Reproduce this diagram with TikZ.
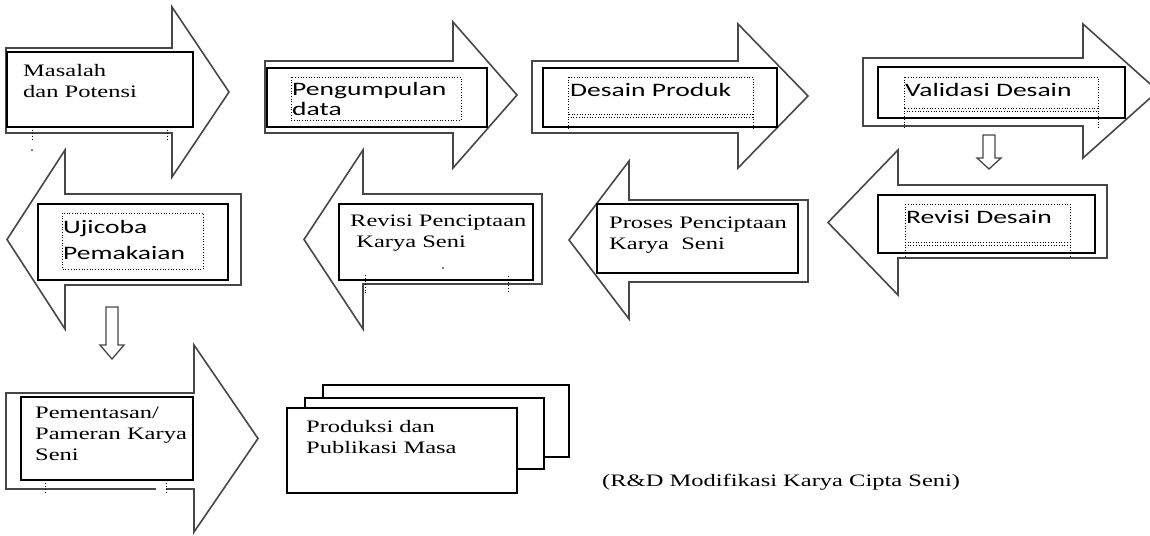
\documentclass[tikz,border=0pt]{standalone}
\usepackage{fontspec}
\setmainfont{Liberation Serif}[FakeStretch=1.4]
\newfontfamily\calfont{Carlito}[FakeStretch=1.45]
\newcommand\BlockArr[7]{%
  \draw[arr] (#1,#2) -- (#4,#2) -- (#4,#5) -- (#7,{(#5+#6)/2}) -- (#4,#6) -- (#4,#3) -- (#1,#3) -- cycle;}
\newcommand\DownArr[4]{%
  \draw[arr, line width=1.3pt] ({#1-6},#2) -- ({#1+6},#2) -- ({#1+6},#3) -- ({#1+12},#3) -- (#1,#4) -- ({#1-12},#3) -- ({#1-6},#3) -- cycle;}
\begin{document}
\begin{tikzpicture}[x=1pt,y=-1pt,
  arr/.style={draw=black!72, line width=1.6pt, fill=white, line join=miter},
  ibox/.style={draw=black, line width=1.4pt, fill=white},
  tframe/.style={draw=black, dotted, line width=0.7pt},
  tickmark/.style={draw=black, dotted, line width=0.9pt},
  serif/.style={font=\fontsize{17.5}{21}\selectfont, anchor=base west, inner sep=0pt, align=left},
  sans/.style={font=\calfont\fontsize{19}{20}\selectfont, anchor=base west, inner sep=0pt, align=left}]
\useasboundingbox (0,0) rectangle (1150,535);
\fill[white] (0,0) rectangle (1150,535);

% ---- row 1 : arrows to the right
\BlockArr{6}{48}{133}{172}{7}{177}{229}
\BlockArr{265}{61}{133}{453}{22}{168}{517}
\BlockArr{532}{61}{133}{738}{24}{168}{808}
\BlockArr{863}{58}{126}{1083}{24}{158}{1158}

% ---- row 2 : arrows to the left
\BlockArr{1107}{185}{258}{898}{150}{295}{828}
\BlockArr{808}{200}{282}{629}{161}{319}{569}
\BlockArr{542}{194}{284}{363}{150}{329}{304}
\BlockArr{241}{194}{285}{65}{150}{329}{7}

% ---- row 3
\BlockArr{6}{393}{489}{194}{345}{532}{258}

% small down arrows
\DownArr{989}{135}{158}{169}
\DownArr{112}{307}{345}{359}

% ---- inner boxes
\draw[ibox] (7,52) rectangle (193,127);
\draw[ibox] (267,68) rectangle (487,127);
\draw[ibox] (543,68) rectangle (777,127);
\draw[ibox] (878,67) rectangle (1125,118);
\draw[ibox] (878,195) rectangle (1095,253);
\draw[ibox] (597,204) rectangle (798,273);
\draw[ibox] (339,204) rectangle (533,280);
\draw[ibox] (38,204) rectangle (228,280);
\draw[ibox] (21,397) rectangle (193,480);

% gap in the shaft of the last arrow
\fill[white] (156,486) rectangle (166,492);

% ---- dotted text frames
\draw[tframe] (291,77) rectangle (461,120);
\draw[tframe] (568,77) rectangle (753,114);
\draw[tframe] (568,114) -- (568,128) (753,114) -- (753,128) (568,117) -- (753,117);
\draw[tframe] (904,77) rectangle (1098,108);
\draw[tframe] (904,108) -- (904,127) (1098,108) -- (1098,127) (904,111) -- (1098,111);
\draw[tframe] (905,204) rectangle (1070,242);
\draw[tframe] (905,242) -- (905,257) (1070,242) -- (1070,257) (905,245) -- (1070,245);
\draw[tframe] (62,213) rectangle (203,269);

% ---- stray dotted ticks
\draw[tickmark] (32,127) -- (32,140) (167,127) -- (167,141);
\fill (32,150) circle (0.8);
\draw[tickmark] (365,275) -- (365,295) (508,276) -- (508,293);
\fill (443,268) circle (0.8);
\draw[tickmark] (45,480) -- (45,493) (166,480) -- (166,493);

% ---- stacked documents
\draw[ibox, line width=1.3pt] (323,385) rectangle (569,457);
\draw[ibox, line width=1.3pt] (305,398) rectangle (544,469);
\draw[ibox, line width=1.3pt] (287,408) rectangle (517,493);

% ---- texts (anchor = baseline of the last line)
\node[serif] (t1) at (23,97) {Masalah\\dan Potensi};
\node[sans] (t2) at (292,115) {Pengumpulan\\data};
\node[sans] (t3) at (570,96) {Desain Produk};
\node[sans] (t4) at (905,96) {Validasi Desain};
\node[sans] (t5) at (906,223) {Revisi Desain};
\node[serif] (t6) at (609,249) {Proses Penciptaan\\Karya\ \ Seni};
\node[serif] (t7) at (350,247) {Revisi Penciptaan\\\ Karya Seni};
\node[sans, font=\calfont\fontsize{19}{26}\selectfont] (t8) at (63,259) {Ujicoba\\Pemakaian};
\node[serif] (t9) at (35,460) {Pementasan/\\Pameran Karya\\Seni};
\node[serif] (t10) at (306,453) {Produksi dan\\Publikasi Masa};
\node[serif] (cap) at (602,486) {(R\&D Modifikasi Karya Cipta Seni)};
\end{tikzpicture}
\end{document}
